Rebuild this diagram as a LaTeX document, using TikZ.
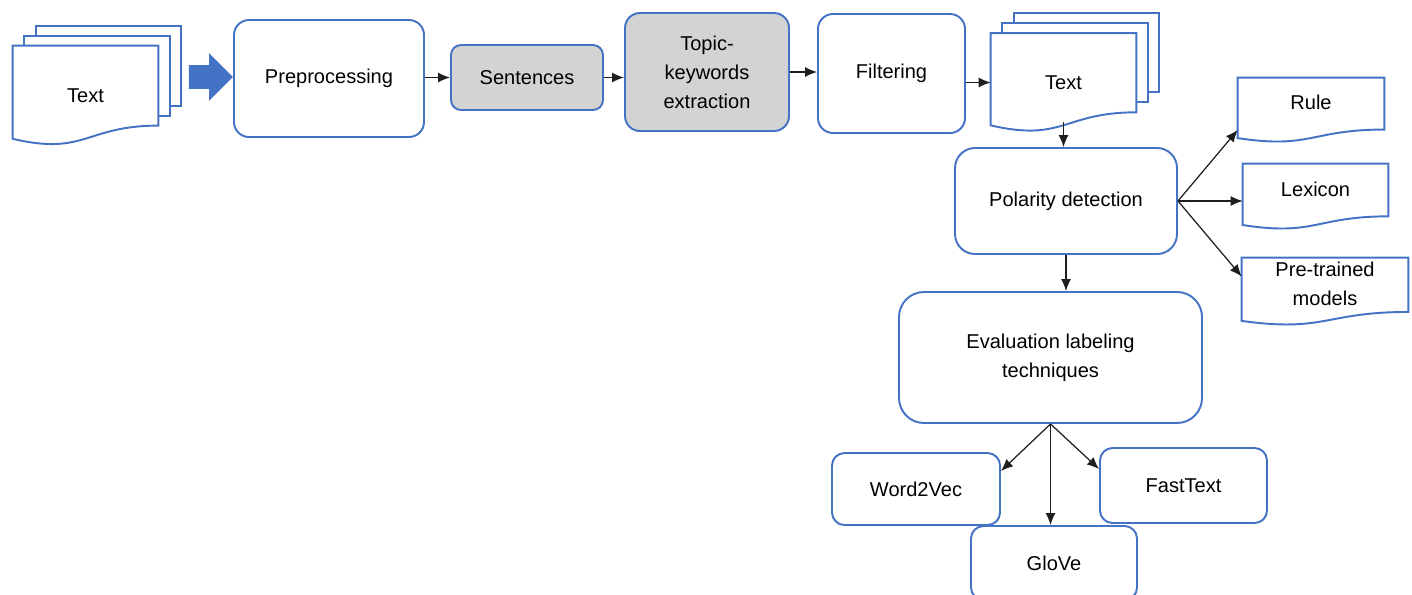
\documentclass[tikz,border=0pt]{standalone}
\usepackage{fontspec}
\setmainfont{Liberation Sans}
\usepackage{tikz}
\usetikzlibrary{shapes.arrows,calc,arrows.meta}
\definecolor{flowblue}{RGB}{68,114,196}
\definecolor{stepgray}{RGB}{211,211,211}
\definecolor{arrowcol}{RGB}{30,30,30}

\newcommand{\docline}[1]{%
  \draw[docedge] (#1.north west) -- (#1.north east)
    -- ($(#1.north east)!0.802!(#1.south east)$)
    .. controls ($(#1.north)!0.802!(#1.south)$) and ($(#1.north)!1.107!(#1.south)$)
    .. ($(#1.north west)!0.934!(#1.south west)$) -- cycle;}
\newcommand{\docstack}[1]{%
  \draw[docedge] ($(#1.north west)+(0.23,0)$) -- ++(0,0.2)
    -| ($(#1.north east)!0.802!(#1.south east)+(0.23,0.2)$) -- ++(-0.23,0);
  \draw[docedge] ($(#1.north west)+(0.46,0.2)$) -- ++(0,0.2)
    -| ($(#1.north east)!0.802!(#1.south east)+(0.46,0.4)$) -- ++(-0.23,0);}

\begin{document}
\begin{tikzpicture}[
  font=\fontsize{11.4}{16.5}\selectfont,
  box/.style={rounded corners=0.3cm, draw=flowblue, line width=1.1pt, align=center, inner sep=2pt},
  doc/.style={align=center, inner sep=2pt},
  docup/.style={doc, text depth=0.3cm},
  docedge/.style={draw=flowblue, line width=1.1pt},
  arr/.style={-{Latex[length=2.4mm,width=2mm]}, line width=0.7pt, color=arrowcol}
]
\useasboundingbox (0,0) rectangle (28.24,-11.88);

\node[doc, minimum width=2.9cm, minimum height=1.98cm] (tin) at (1.71,-1.91) {Text};
\docline{tin}
\docstack{tin}
\node[single arrow, fill=flowblue, draw=none, minimum height=0.88cm,
      single arrow head extend=0.24cm, inner xsep=0pt, inner ysep=0.23cm] (bigarrow) at (4.1,-1.54) {};

\node[box, minimum width=3.8cm,  minimum height=2.34cm] (pre)  at (6.58,-1.57)  {Preprocessing};
\node[box, fill=stepgray, rounded corners=0.2cm, minimum width=3.04cm, minimum height=1.3cm] (sen) at (10.54,-1.55) {Sentences};
\node[box, fill=stepgray, minimum width=3.28cm, minimum height=2.36cm] (topic) at (14.14,-1.44) {Topic-\\keywords\\extraction};
\node[box, minimum width=2.94cm, minimum height=2.38cm] (filt) at (17.83,-1.47) {Filtering};

\node[doc, minimum width=2.9cm, minimum height=1.96cm] (tout) at (21.27,-1.65) {Text};
\docline{tout}
\docstack{tout}

\node[box, rounded corners=0.4cm, minimum width=4.44cm, minimum height=2.12cm] (pol) at (21.32,-4.02) {Polarity detection};

\node[docup, minimum width=2.92cm, minimum height=1.28cm] (rule) at (26.22,-2.2)  {Rule};
\node[docup, minimum width=2.9cm,  minimum height=1.3cm]  (lex)  at (26.31,-3.93) {Lexicon};
\node[docup, minimum width=3.32cm, minimum height=1.34cm] (ptm)  at (26.5,-5.83)  {Pre-trained\\models};
\docline{rule}
\docline{lex}
\docline{ptm}

\node[box, rounded corners=0.5cm, minimum width=6.06cm, minimum height=2.62cm] (eval) at (21.01,-7.15) {Evaluation labeling\\techniques};
\node[box, rounded corners=0.25cm, minimum width=3.36cm, minimum height=1.44cm] (w2v)   at (18.32,-9.78)  {Word2Vec};
\node[box, rounded corners=0.25cm, minimum width=3.34cm, minimum height=1.5cm]  (fast)  at (23.67,-9.71)  {FastText};
\node[box, rounded corners=0.25cm, minimum width=3.32cm, minimum height=1.48cm] (glove) at (21.08,-11.26) {GloVe};

\draw[arr] (pre.east |- sen.west) -- (sen.west);
\draw[arr] (sen.east) -- (sen.east -| topic.west);
\draw[arr] (topic.east) -- (topic.east -| filt.west);
\draw[arr] (filt.east |- tout.west) -- (tout.west);
\draw[arr] ([yshift=0.2cm]tout.south) -- (tout.south |- pol.north);
\draw[arr] (pol.south) -- (pol.south |- eval.north);
\draw[arr] (pol.east) -- ([yshift=-0.4cm]rule.west);
\draw[arr] (pol.east) -- (pol.east -| lex.west);
\draw[arr] (pol.east) -- ([yshift=0.3cm]ptm.west);
\draw[arr] (eval.south) -- ([yshift=-0.38cm]w2v.north east);
\draw[arr] (eval.south) -- (eval.south |- glove.north);
\draw[arr] (eval.south) -- ([yshift=-0.44cm]fast.north west);

\end{tikzpicture}
\end{document}
